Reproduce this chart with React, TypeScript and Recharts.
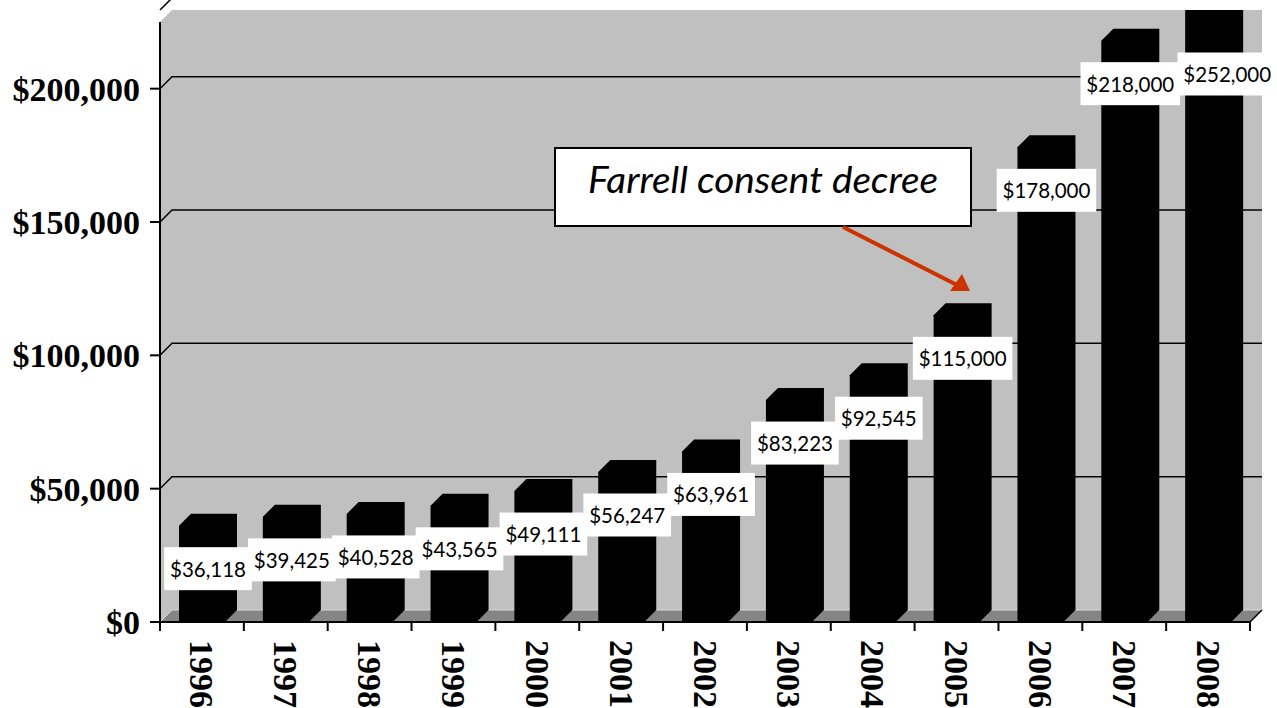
import React from "react";
import { BarChart, Bar, XAxis, YAxis, CartesianGrid, ReferenceArea, LabelList } from "recharts";

const years = ["1996", "1997", "1998", "1999", "2000", "2001", "2002", "2003", "2004", "2005", "2006", "2007", "2008"];
const funding = [36118, 39425, 40528, 43565, 49111, 56247, 63961, 83223, 92545, 115000, 178000, 218000, 252000];
const yTicks = [0, 50000, 100000, 150000, 200000];
const note = "Farrell consent decree";

const W = 1277;
const H = 708;
const DEPTH = 12; // 3d offset of the back wall
const PLOT_LEFT = 160;
const PLOT_RIGHT = 1250;
const PLOT_BOTTOM = 622;
const BAND = (PLOT_RIGHT - PLOT_LEFT) / years.length;
// front plane shows 225,000 over 600px, plus room for the back wall above it
const Y_MAX = 229500;

const data = years.map((year, i) => ({ year, value: funding[i] }));

const money = (v: number) => "$" + v.toLocaleString("en-US");

// gray side wall, back wall and floor
const Walls = (p: any) => {
  const { x, y, width, height } = p;
  const d = DEPTH;
  const b = y + height;
  const r = x + width;
  return (
    <g>
      <polygon points={`${x},${y + d} ${x + d},${y} ${x + d},${b - d} ${x},${b}`} fill="#c0c0c0" />
      <rect x={x + d} y={y} width={width} height={height - d} fill="#c0c0c0" />
      <polygon points={`${x},${b} ${r},${b} ${r + d},${b - d} ${x + d},${b - d}`} fill="#858585" />
      <line x1={x + d} y1={b - d} x2={r + d} y2={b - d} stroke="#dcdcdc" strokeWidth={1} />
      <line x1={x} y1={b} x2={x + d} y2={b - d} stroke="#dcdcdc" strokeWidth={1} />
      <line x1={x} y1={y + d} x2={x} y2={b} stroke="#000" strokeWidth={2} />
    </g>
  );
};

const gridLine = (p: any) => {
  if (p.y1 > PLOT_BOTTOM - 2) return <g key={p.key} />;
  return (
    <polyline
      key={p.key}
      points={`${p.x1},${p.y1} ${p.x1 + DEPTH},${p.y1 - DEPTH} ${p.x2 + DEPTH},${p.y2 - DEPTH}`}
      fill="none"
      stroke="#000"
      strokeWidth={1.5}
    />
  );
};

const Bar3D = (p: any) => {
  const { x, y, width, height } = p;
  const d = DEPTH;
  const b = y + height;
  const r = x + width;
  return (
    <polygon
      points={`${x},${b} ${x},${y} ${x + d},${y - d} ${r + d},${y - d} ${r + d},${b - d} ${r},${b}`}
      fill="#000"
    />
  );
};

const ValueLabel = (p: any) => {
  const vb = p.viewBox && p.viewBox.width != null ? p.viewBox : p;
  const { x, y, width } = vb;
  const text = money(Number(p.value));
  const fs = 20.5;
  let tw = 0;
  for (const ch of text) tw += ch === "," ? fs * 0.26 : fs * 0.58;
  const bw = tw + 11;
  // the last label sits against the right edge of the chart
  const isLast = Number(p.value) === funding[funding.length - 1];
  const cx = isLast ? W - bw / 2 : x + width / 2 + 6;
  const cy = Math.max(y + 43, 74);
  return (
    <g>
      <rect x={cx - bw / 2} y={cy - 21.5} width={bw} height={43} fill="#fff" />
      <text x={cx} y={cy} textAnchor="middle" dominantBaseline="central" fontSize={fs} fontFamily="Lato" fill="#000">
        {text}
      </text>
    </g>
  );
};

const YearTick = (p: any) => {
  const { x, y, payload } = p;
  const half = BAND / 2;
  const last = payload.value === years[years.length - 1];
  return (
    <g>
      <line x1={x - half} y1={PLOT_BOTTOM} x2={x - half} y2={PLOT_BOTTOM + 9} stroke="#000" strokeWidth={2} />
      {last && (
        <>
          <line x1={x + half} y1={PLOT_BOTTOM} x2={x + half} y2={PLOT_BOTTOM + 9} stroke="#000" strokeWidth={2} />
          <line x1={x + half} y1={PLOT_BOTTOM} x2={x + half + DEPTH} y2={PLOT_BOTTOM - DEPTH} stroke="#000" strokeWidth={1.5} />
        </>
      )}
      <text
        x={x}
        y={y}
        transform={`rotate(90 ${x} ${y})`}
        textAnchor="start"
        dominantBaseline="central"
        fontSize={34}
        fontWeight="bold"
        fontFamily="Liberation Serif"
        fill="#000"
      >
        {payload.value}
      </text>
    </g>
  );
};

export default function App() {
  return (
    <div style={{ position: "absolute", left: 0, top: 0, width: W, height: H, background: "#fff" }}>
      <BarChart width={W} height={H} data={data} margin={{ top: 10, right: W - PLOT_RIGHT, left: 0, bottom: 0 }}>
        <ReferenceArea y1={0} y2={Y_MAX} shape={Walls} zIndex={-200} ifOverflow="visible" />
        <CartesianGrid vertical={false} horizontal={gridLine} />
        <XAxis
          dataKey="year"
          height={H - PLOT_BOTTOM}
          interval={0}
          axisLine={{ stroke: "#000", strokeWidth: 2 }}
          tickLine={false}
          tickSize={8}
          tickMargin={10}
          tick={<YearTick />}
        />
        <YAxis
          width={PLOT_LEFT}
          domain={[0, Y_MAX]}
          allowDataOverflow
          ticks={yTicks}
          interval={0}
          tickFormatter={money}
          axisLine={false}
          tickLine={{ stroke: "#000", strokeWidth: 2 }}
          tickSize={10}
          tickMargin={10}
          tick={{ fontSize: 34, fontWeight: "bold", fontFamily: "Liberation Serif", fill: "#000" }}
        />
        <Bar dataKey="value" barSize={46} shape={<Bar3D />} isAnimationActive={false}>
          <LabelList dataKey="value" content={<ValueLabel />} />
        </Bar>
      </BarChart>
      <svg width={W} height={H} style={{ position: "absolute", left: 0, top: 0, pointerEvents: "none" }}>
        <rect x={555} y={148} width={416} height={78} fill="#fff" stroke="#000" strokeWidth={2} />
        <text
          x={763}
          y={193}
          textAnchor="middle"
          fontSize={37}
          fontStyle="italic"
          fontFamily="Lato"
          fill="#000"
          textLength={350}
          lengthAdjust="spacingAndGlyphs"
        >
          {note}
        </text>
        <line x1={843} y1={227} x2={957} y2={285} stroke="#cc3300" strokeWidth={4} />
        <polygon points="970,291 950,291 962,274" fill="#cc3300" />
      </svg>
    </div>
  );
}
